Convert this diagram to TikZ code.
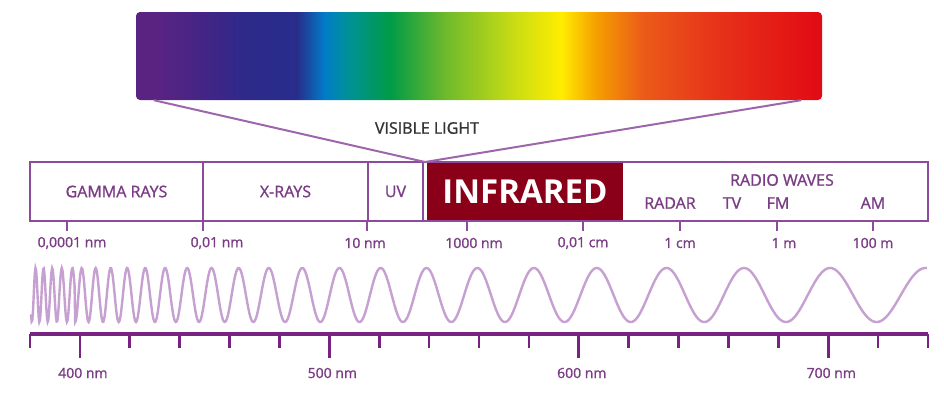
\documentclass[tikz,border=0pt]{standalone}
\usepackage{fontspec}
\setmainfont{Open Sans}
\newfontfamily\labelfont{Open Sans}[FakeBold=1.2]
\usepackage{tikz}
\usetikzlibrary{
    positioning,
    calc
}
\usepackage{xcolor}

\definecolor{linepurple}{RGB}{140,75,155}
\definecolor{labelpurple}{RGB}{122,60,132}
\definecolor{axispurple}{RGB}{120,35,130}
\definecolor{wavepurple}{RGB}{198,160,208}
\definecolor{irred}{RGB}{138,0,24}

\pgfdeclarehorizontalshading{rainbow}{100bp}{
    rgb(0bp)=(.353,.137,.510); rgb(26.5bp)=(.353,.137,.510);
    rgb(31bp)=(.235,.149,.529); rgb(33bp)=(.176,.165,.541);
    rgb(36.75bp)=(.157,.176,.549); rgb(38.75bp)=(0,.490,.784);
    rgb(40.5bp)=(0,.569,.588); rgb(43.5bp)=(0,.608,.275);
    rgb(47.5bp)=(.431,.725,.176); rgb(52.5bp)=(.784,.863,.078);
    rgb(56bp)=(1,.929,0); rgb(58.5bp)=(.961,.627,0);
    rgb(62bp)=(.922,.353,.098); rgb(67.5bp)=(.902,.196,.098);
    rgb(75bp)=(.886,.039,.078); rgb(100bp)=(.886,.039,.078)}

\tikzstyle{rainbowbar} = [
    rectangle,
    rounded corners=4pt,
    shading=rainbow,
    minimum width=686pt,
    minimum height=88pt,
    inner sep=0pt
]
\tikzstyle{bandcell} = [
    rectangle,
    minimum height=59pt,
    inner sep=0pt,
    outer sep=0pt,
    text=labelpurple,
    font=\labelfont\fontsize{16}{18}\selectfont
]
\tikzstyle{irbox} = [
    fill=irred,
    text=white,
    font=\fontsize{33}{36}\selectfont\bfseries
]
\tikzstyle{bandline} = [
    draw=linepurple,
    line width=1.6pt
]
\tikzstyle{funnel} = [
    draw=linepurple!85,
    line width=2pt
]
\tikzstyle{sublabel} = [
    text=labelpurple,
    inner sep=0pt,
    font=\labelfont\fontsize{16}{18}\selectfont
]
\tikzstyle{ticklabel} = [
    text=labelpurple,
    inner sep=0pt,
    font=\labelfont\fontsize{14}{16}\selectfont
]
\tikzstyle{tickmark} = [
    draw=linepurple,
    line width=2pt
]
\tikzstyle{wave} = [
    draw=wavepurple,
    line width=2.4pt
]
\tikzstyle{ruler} = [
    draw=axispurple,
    line width=3.8pt
]
\tikzstyle{rulertick} = [
    draw=axispurple,
    line width=2.6pt
]

\begin{document}
\begin{tikzpicture}[x=1pt, y=-1pt]
    \useasboundingbox (0,0) rectangle (944,402);

    % Visible spectrum
    \node[rainbowbar] (rainbow) at (479,56) {};
    \node[text=black!80, font=\labelfont\fontsize{16}{18}\selectfont] (vislabel) at (427,128) {VISIBLE LIGHT};

    % Band strip
    \node[bandcell, minimum width=173pt, anchor=north west] (gamma) at (30,162) {GAMMA RAYS};
    \node[bandcell, minimum width=165pt, right=0pt of gamma] (xrays) {X-RAYS};
    \node[bandcell, minimum width=55pt, right=0pt of xrays] (uv) {UV};
    \node[bandcell, minimum width=4pt, right=0pt of uv] (visible) {};
    \node[bandcell, irbox, minimum width=196pt, right=0pt of visible] (infrared) {INFRARED};
    \node[bandcell, minimum width=305pt, right=0pt of infrared] (radio) {};

    \draw[bandline] (gamma.north west) rectangle (radio.south east);
    \draw[bandline] (gamma.north east) -- (gamma.south east);
    \draw[bandline] (xrays.north east) -- (xrays.south east);
    \draw[bandline] (uv.north east) -- (uv.south east);

    \node[sublabel] (radiowaves) at (782,180) {RADIO WAVES};
    \node[sublabel] (radar) at (670,203) {RADAR};
    \node[sublabel] (tv) at (732,203) {TV};
    \node[sublabel] (fm) at (778,203) {FM};
    \node[sublabel] (am) at (873,203) {AM};

    % Funnel from the strip to the spectrum
    \draw[funnel] ($(rainbow.south west)+(18,0)$) -- (visible.north) -- ($(rainbow.south east)+(-21,0)$);

    % Wavelength scale
    \foreach \tx/\lx/\lab [count=\i] in {67/72/{0,0001 nm}, 203/217/{0,01 nm}, 367/365/{10 nm},
        467/474/{1000 nm}, 583/583/{0,01 cm}, 680/680/{1 cm}, 777/784/{1 m}, 873/873/{100 m}} {
        \draw[tickmark] (\tx,221) -- (\tx,231);
        \node[ticklabel] (scale-\i) at (\lx,243) {\lab};
    }

    % Wave
    \draw[wave] plot[domain=31:927, samples=1400] (\x, {295-27*cos(3428.57*ln((3.5+0.105*\x)/90.65))});

    % Ruler
    \coordinate (rulerleft) at (30,334);
    \coordinate (rulerright) at (928,334);
    \draw[ruler] (rulerleft) -- (rulerright);
    \foreach \i in {0,...,18} {
        \pgfmathsetmacro{\rx}{30+\i*49.89}
        \pgfmathsetmacro{\rlen}{ifthenelse(mod(\i,5)==1,24,14)}
        \draw[rulertick] (\rx,334) -- (\rx,334+\rlen);
    }
    \foreach \i/\lab in {1/400, 6/500, 11/600, 16/700}
        \node[ticklabel] (nm-\lab) at ({30+\i*49.89+3},373) {\lab\ nm};
\end{tikzpicture}
\end{document}
